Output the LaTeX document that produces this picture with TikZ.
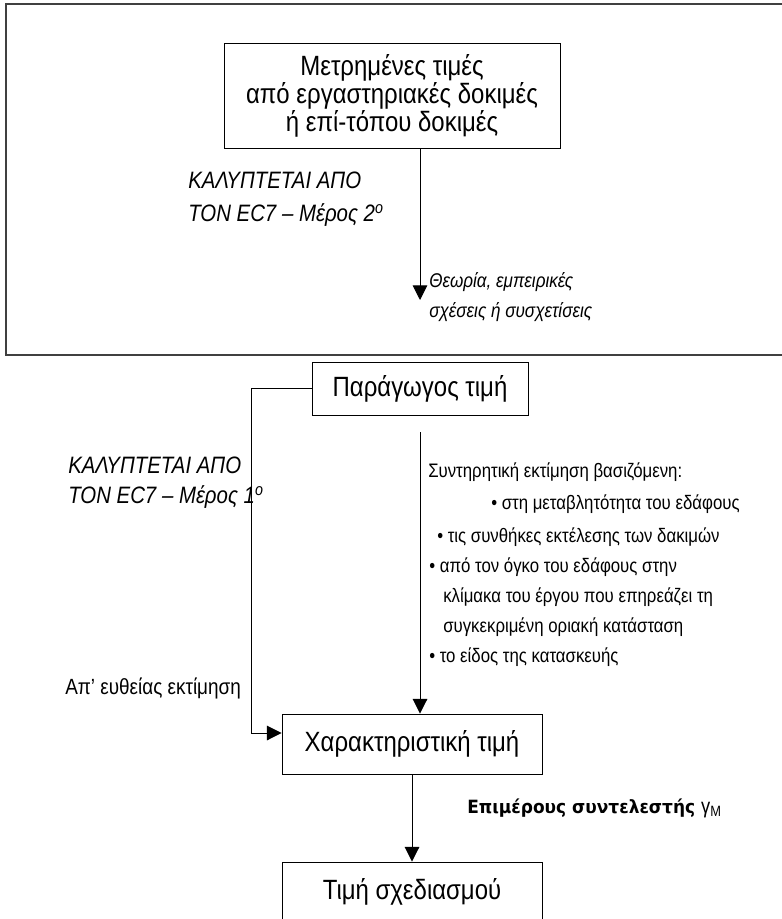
\documentclass[tikz,border=0pt]{standalone}
\usepackage{fontspec}
\setmainfont{Liberation Sans}[FakeStretch=0.86]
\newfontfamily\heavyfont{DejaVu Sans}[FakeStretch=0.93]
\usetikzlibrary{arrows.meta}

\begin{document}
\begin{tikzpicture}[x=0.75pt, y=-0.75pt, >={Triangle[length=11pt, width=11pt]},
    box/.style={draw, line width=0.7pt, inner sep=0pt, font=\fontsize{20.9}{21}\selectfont},
    note/.style={anchor=west, inner sep=0pt, align=left, font=\fontsize{14.65}{22.5}\selectfont},
    cover/.style={note, font=\itshape\fontsize{17.8}{24.75}\selectfont},
    link/.style={line width=0.7pt}]
    \useasboundingbox (0, 0) rectangle (781, 919);
    \draw [line width=1.1pt, black!75] (790, 4) -- (6, 4) -- (6, 355) -- (790, 355);
    \node [box, minimum width=252pt, minimum height=78.75pt, align=center] (meas) at (392, 95.5)
        {Μετρημένες τιμές\\από εργαστηριακές δοκιμές\\ή επί-τόπου δοκιμές};
    \coordinate (tip) at (420, 300);
    \draw [link, ->] (meas.south -| tip) -- (tip);
    \node [cover] (cover2) at (188, 199.5) {ΚΑΛΥΠΤΕΤΑΙ ΑΠΟ\\ΤΟΝ EC7 – Μέρος 2\textsuperscript{o}};
    \node [note, font=\itshape\fontsize{14.9}{22.5}\selectfont] (theory) at (429, 297)
        {Θεωρία, εμπειρικές\\σχέσεις ή συσχετίσεις};
    \node [box, minimum width=162pt, minimum height=39.75pt] (deriv) at (420, 388.5) {Παράγωγος τιμή};
    \node [box, minimum width=195pt, minimum height=45pt] (char) at (412, 744) {Χαρακτηριστική τιμή};
    \node [box, minimum width=195pt, minimum height=45pt] (design) at (412, 892) {Τιμή σχεδιασμού};
    \coordinate (bend) at (251, 733);
    \coordinate (gap) at (420, 432);
    \draw [link, ->] (deriv.west) -- (deriv.west -| bend) -- (bend) -- (bend -| char.west);
    \draw [link, ->] (gap) -- (gap |- char.north);
    \draw [link, ->] (char.south) -- (design.north);
    \node [cover, font=\itshape\fontsize{17.8}{22.5}\selectfont] (cover1) at (68, 483)
        {ΚΑΛΥΠΤΕΤΑΙ ΑΠΟ\\ΤΟΝ EC7 – Μέρος 1\textsuperscript{o}};
    \node [note, font=\fontsize{16.5}{17}\selectfont] (direct) at (65, 688) {Απ’ ευθείας εκτίμηση};
    \foreach \x/\y/\t [count=\i] in {428/472/{Συντηρητική εκτίμηση βασιζόμενη:},
        491/504/{• στη μεταβλητότητα του εδάφους}, 437/537/{• τις συνθήκες εκτέλεσης των δακιμών},
        429/567/{• από τον όγκο του εδάφους στην}, 443/597/{κλίμακα του έργου που επηρεάζει τη},
        443/627/{συγκεκριμένη οριακή κατάσταση}, 429/657/{• το είδος της κατασκευής}}
    \node [note] (basis\i) at (\x, \y) {\t};
    \node [note, font=\heavyfont\bfseries\fontsize{13.7}{16}\selectfont] (factor) at (467, 808)
        {Επιμέρους συντελεστής {\normalfont\mdseries\fontsize{16}{16}\selectfont γ\textsubscript{M}}};
\end{tikzpicture}
\end{document}
